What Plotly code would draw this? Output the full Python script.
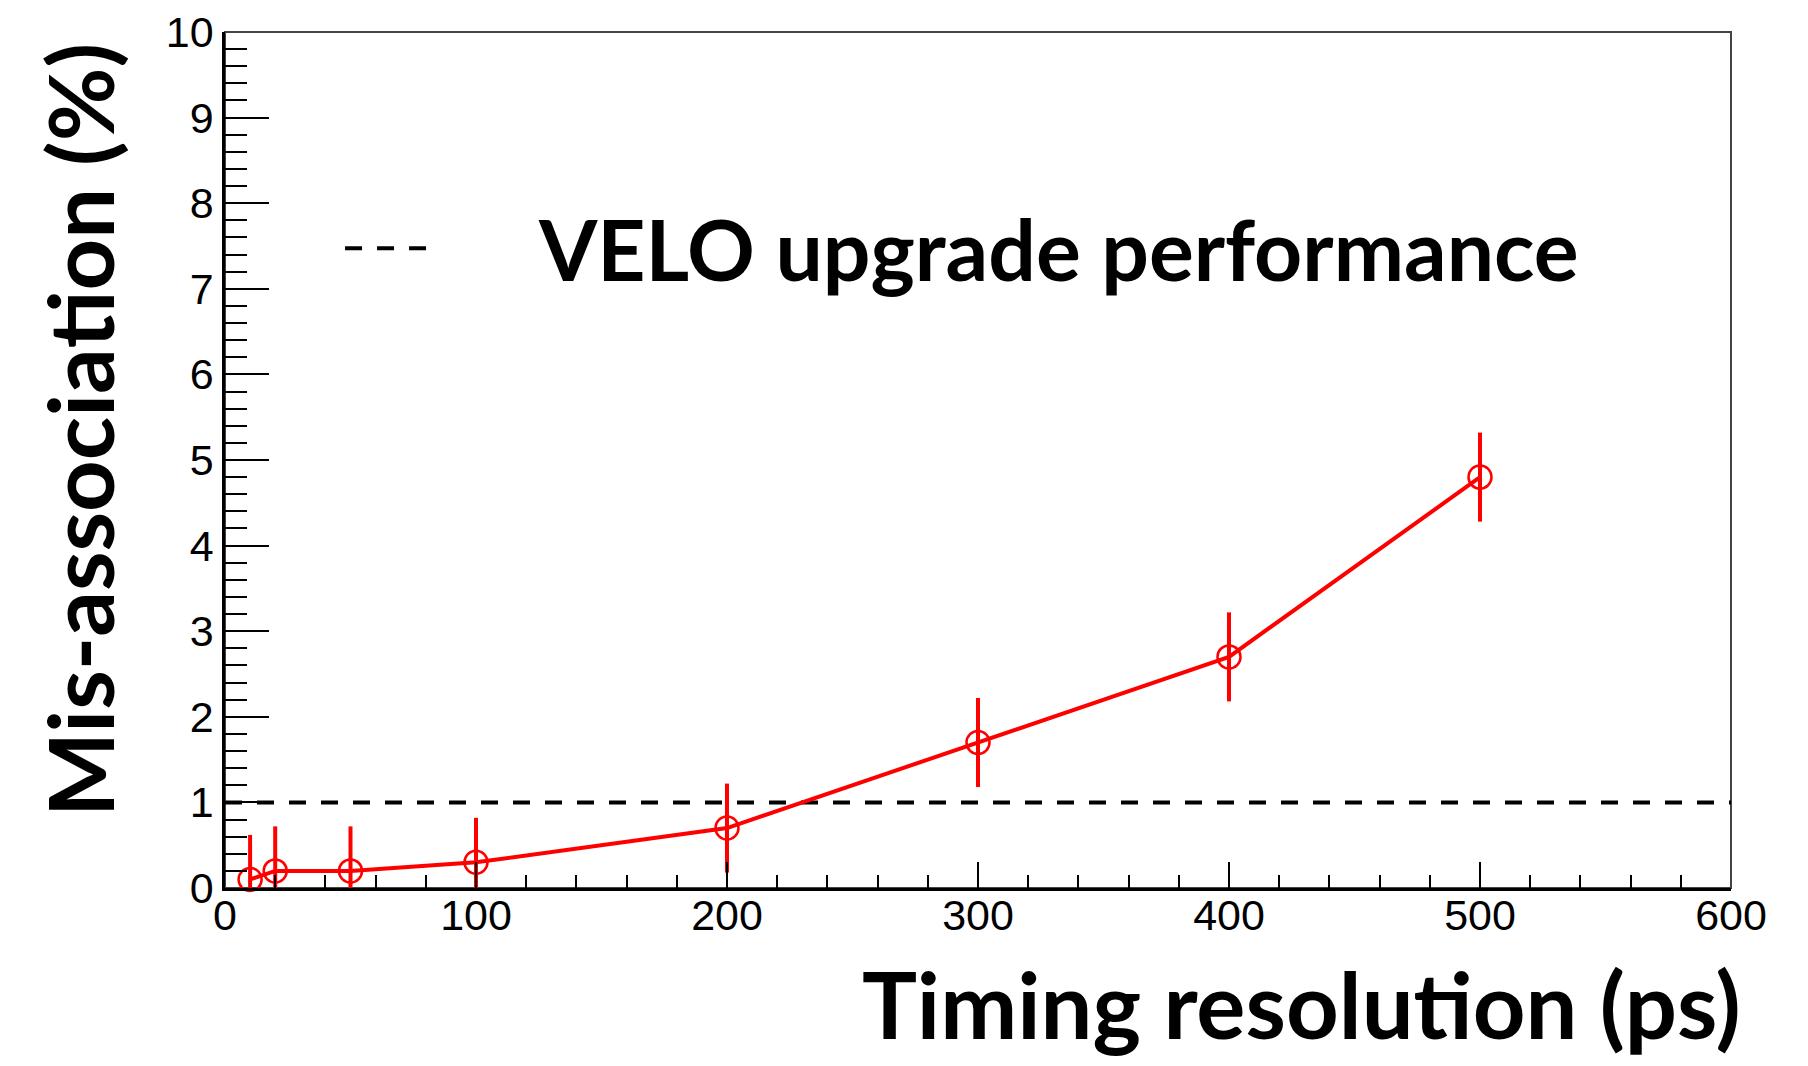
import plotly.graph_objects as go

# Data
timing_ps = [10, 20, 50, 100, 200, 300, 400, 500]
misassoc_pct = [0.1, 0.2, 0.2, 0.3, 0.7, 1.7, 2.7, 4.8]
misassoc_err = [0.52, 0.52, 0.52, 0.52, 0.52, 0.52, 0.52, 0.52]
velo_x = [0, 600]
velo_y = [1.0, 1.0]
x_ticks = [0, 100, 200, 300, 400, 500, 600]
y_ticks = [0, 1, 2, 3, 4, 5, 6, 7, 8, 9, 10]

# page body has an 8px default margin, so the figure is 8px smaller
W, H = 1800, 1058
L, R, T, B = 217, 77, 24, 178

NB = "\u00a0"
ZWNJ = "\u200c"  # stops the "ti" ligature

fig = go.Figure()

fig.add_trace(go.Scatter(
    x=velo_x, y=velo_y, mode="lines",
    line=dict(color="black", width=4, dash="17px,15px"),
    name=NB * 5 + "VELO upgrade performance", showlegend=True,
))

fig.add_trace(go.Scatter(
    x=timing_ps, y=misassoc_pct, mode="lines+markers",
    line=dict(color="#ff0000", width=4),
    marker=dict(symbol="circle-open", size=23, color="#ff0000",
                line=dict(color="#ff0000", width=2.5)),
    error_y=dict(type="data", array=misassoc_err, visible=True,
                 color="#ff0000", thickness=4, width=0),
    cliponaxis=False, showlegend=False,
))

tickfont = dict(family="Liberation Sans, Arial, sans-serif", size=43, color="black")

fig.update_layout(
    width=W, height=H,
    margin=dict(l=L, r=R, t=T, b=B, autoexpand=False),
    paper_bgcolor="white", plot_bgcolor="white",
    xaxis=dict(
        range=[0, 600], tickmode="array", tickvals=x_ticks,
        ticks="inside", ticklen=26, tickwidth=2, tickcolor="black",
        minor=dict(ticks="inside", ticklen=13, tickwidth=2, tickcolor="black", dtick=20, showgrid=False),
        showgrid=False, zeroline=False, automargin=False,
        showline=True, linecolor="black", linewidth=2.5,
        tickfont=tickfont, ticklabelstandoff=-12,
    ),
    yaxis=dict(
        range=[0, 10], tickmode="array", tickvals=y_ticks,
        ticks="inside", ticklen=44, tickwidth=2, tickcolor="black",
        minor=dict(ticks="inside", ticklen=22, tickwidth=2, tickcolor="black", dtick=0.2, showgrid=False),
        showgrid=False, zeroline=False, automargin=False,
        showline=True, linecolor="black", linewidth=2.5,
        tickfont=tickfont,
    ),
    legend=dict(
        x=0.0764, y=0.747, xanchor="left", yanchor="middle",
        bgcolor="rgba(0,0,0,0)", borderwidth=0,
        font=dict(family="Lato, sans-serif", size=84, color="black", weight="bold"),
        itemwidth=90,
    ),
    shapes=[dict(type="rect", xref="paper", yref="paper", x0=0, y0=0, x1=1, y1=1,
                 line=dict(color="#444444", width=2), layer="below")],
    annotations=[
        dict(text="Mis-associa" + ZWNJ + "tion (%)", xref="paper", yref="paper",
             x=-0.0969, y=0.535, xanchor="center", yanchor="middle",
             textangle=-90, showarrow=False,
             font=dict(family="Lato, sans-serif", size=90, color="black", weight="bold")),
        dict(text="Timing resolu" + ZWNJ + "tion (ps)", xref="paper", yref="paper",
             x=1.008, y=-0.1355, xanchor="right", yanchor="middle",
             showarrow=False,
             font=dict(family="Lato, sans-serif", size=92, color="black", weight="bold")),
    ],
)

fig.write_html("out.html")
